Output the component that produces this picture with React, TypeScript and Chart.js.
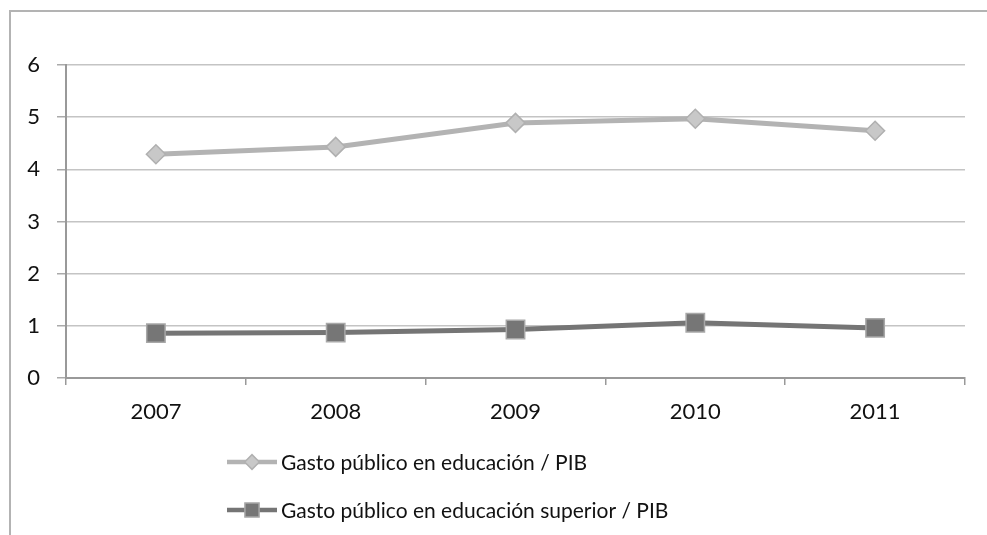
import React, { useEffect, useRef } from "react";
import { Chart, registerables } from "chart.js";

Chart.register(...registerables);

const categories = ["2007", "2008", "2009", "2010", "2011"];
const seriesNames = [
  "Gasto público en educación / PIB",
  "Gasto público en educación superior / PIB",
];
const educacionPIB = [4.29, 4.43, 4.89, 4.97, 4.74];
const superiorPIB = [0.86, 0.87, 0.93, 1.06, 0.96];
const yMin = 0;
const yMax = 6;
const yStep = 1;

const FONT = "Lato, 'Open Sans', sans-serif";

function drawMarker(ctx: CanvasRenderingContext2D, style: string, x: number, y: number, r: number, fill: string, stroke: string) {
  ctx.save();
  ctx.beginPath();
  if (style === "rectRot") {
    ctx.moveTo(x - r, y);
    ctx.lineTo(x, y - r);
    ctx.lineTo(x + r, y);
    ctx.lineTo(x, y + r);
    ctx.closePath();
  } else {
    const s = Math.SQRT1_2 * r;
    ctx.rect(x - s, y - s, 2 * s, 2 * s);
  }
  ctx.fillStyle = fill;
  ctx.fill();
  ctx.lineWidth = 1.5;
  ctx.strokeStyle = stroke;
  ctx.stroke();
  ctx.restore();
}

const framePlugin = {
  id: "frameAndLegend",
  beforeDraw(chart: any) {
    const ctx = chart.ctx as CanvasRenderingContext2D;
    ctx.save();
    ctx.strokeStyle = "#b3b3b3";
    ctx.lineWidth = 2;
    ctx.beginPath();
    ctx.moveTo(10, chart.height);
    ctx.lineTo(10, 11);
    ctx.lineTo(chart.width, 11);
    ctx.stroke();
    ctx.restore();
  },
  afterDraw(chart: any) {
    const ctx = chart.ctx as CanvasRenderingContext2D;
    chart.data.datasets.forEach((ds: any, i: number) => {
      const y = 462 + i * 48;
      ctx.save();
      ctx.strokeStyle = ds.borderColor;
      ctx.lineWidth = 4.5;
      ctx.beginPath();
      ctx.moveTo(227, y);
      ctx.lineTo(277, y);
      ctx.stroke();
      ctx.restore();
      drawMarker(ctx, ds.pointStyle, 252, y, ds.pointRadius * 0.77, ds.pointBackgroundColor, ds.pointBorderColor);
      ctx.save();
      ctx.fillStyle = "#111";
      ctx.font = `21px ${FONT}`;
      ctx.textBaseline = "middle";
      ctx.textAlign = "left";
      ctx.fillText(ds.label, 281, y + 1);
      ctx.restore();
    });
  },
};

export default function App() {
  const ref = useRef<HTMLCanvasElement>(null);
  useEffect(() => {
    if (!ref.current) return;
    const chart = new Chart(ref.current, {
      type: "line",
      data: {
        labels: categories,
        datasets: [
          {
            label: seriesNames[0],
            data: educacionPIB,
            borderColor: "#b3b3b3",
            borderWidth: 5,
            pointStyle: "rectRot",
            pointRadius: 9.5,
            pointHoverRadius: 9.5,
            pointBackgroundColor: "#c8c8c8",
            pointBorderColor: "#b0b0b0",
            pointBorderWidth: 1.5,
            tension: 0,
          },
          {
            label: seriesNames[1],
            data: superiorPIB,
            borderColor: "#757575",
            borderWidth: 5,
            pointStyle: "rect",
            pointRadius: 13,
            pointHoverRadius: 13,
            pointBackgroundColor: "#767676",
            pointBorderColor: "#a8a8a8",
            pointBorderWidth: 1.5,
            tension: 0,
          },
        ] as any,
      },
      options: {
        animation: false,
        responsive: true,
        maintainAspectRatio: false,
        layout: { padding: { left: 0, top: 65, right: 22, bottom: 0 } },
        plugins: {
          legend: { display: false },
          tooltip: { enabled: false },
        },
        scales: {
          x: {
            offset: true,
            grid: {
              offset: true,
              drawOnChartArea: false,
              drawTicks: true,
              tickLength: 7,
              tickColor: "#999999",
              lineWidth: 1.5,
            },
            border: { color: "#999999", width: 2 },
            ticks: {
              color: "#111",
              font: { family: FONT, size: 22 },
              padding: 14,
              maxRotation: 0,
            },
            afterFit(scale: any) {
              scale.height = 157;
            },
          },
          y: {
            min: yMin,
            max: yMax,
            grid: {
              color: "#c4c4c4",
              lineWidth: 1.5,
              tickLength: 9,
              tickColor: "#aaaaaa",
            },
            border: { color: "#999999", width: 2 },
            ticks: {
              stepSize: yStep,
              color: "#111",
              font: { family: FONT, size: 22 },
              padding: 17,
            },
            afterFit(scale: any) {
              scale.width = 66;
            },
          },
        },
      },
      plugins: [framePlugin],
    });
    return () => chart.destroy();
  }, []);
  return (
    <div style={{ position: "fixed", left: 0, top: 0, width: 987, height: 535, background: "#fff" }}>
      <canvas ref={ref} />
    </div>
  );
}
